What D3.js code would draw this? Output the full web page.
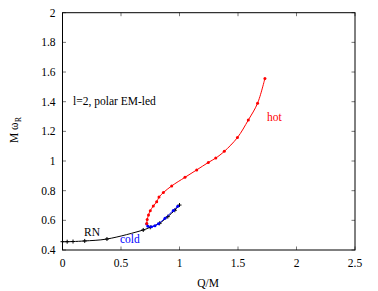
<!DOCTYPE html>
<html><head><meta charset="utf-8">
<script src="https://cdn.jsdelivr.net/npm/d3@7"></script>
<style>body{margin:0;background:#fff}svg{display:block}text{font-family:"Liberation Serif","Times New Roman",serif}</style>
</head><body>
<svg id="c" width="378" height="291"></svg>
<script>
const xTicks = [0, 0.5, 1, 1.5, 2, 2.5];
const yTicks = [0.4, 0.6, 0.8, 1, 1.2, 1.4, 1.6, 1.8, 2];
const rnQ = [0, 0.04, 0.09, 0.19, 0.38, 0.69, 0.75, 0.83, 0.9, 0.96, 1.0];
const rnW = [0.456, 0.456, 0.457, 0.461, 0.474, 0.535, 0.553, 0.58, 0.625, 0.668, 0.703];
const hotQ = [0.72, 0.724, 0.735, 0.75, 0.776, 0.805, 0.825, 0.862, 0.933, 1.047, 1.147, 1.246, 1.31, 1.383, 1.495, 1.588, 1.667, 1.73];
const hotW = [0.578, 0.605, 0.636, 0.665, 0.696, 0.725, 0.757, 0.787, 0.832, 0.89, 0.94, 0.99, 1.02, 1.065, 1.158, 1.276, 1.389, 1.557];
const coldQ = [0.72, 0.73, 0.76, 0.79, 0.82, 0.876, 0.947, 0.985];
const coldW = [0.575, 0.56, 0.556, 0.563, 0.577, 0.614, 0.667, 0.695];

const svg = d3.select("#c");
const L = 62.5, R = 355, T = 12.7, B = 250;
const x = d3.scaleLinear().domain([0, 2.5]).range([L, R]);
const y = d3.scaleLinear().domain([0.4, 2]).range([B, T]);
const tl = 3.5;

const tg = svg.append("g").attr("stroke", "#777").attr("stroke-width", 1);
xTicks.forEach(t => {
  tg.append("line").attr("x1", x(t)).attr("x2", x(t)).attr("y1", B).attr("y2", B - tl);
  tg.append("line").attr("x1", x(t)).attr("x2", x(t)).attr("y1", T).attr("y2", T + tl);
});
yTicks.forEach(t => {
  tg.append("line").attr("y1", y(t)).attr("y2", y(t)).attr("x1", L).attr("x2", L + tl);
  tg.append("line").attr("y1", y(t)).attr("y2", y(t)).attr("x1", R).attr("x2", R - tl);
});
svg.append("rect").attr("x", L).attr("y", T).attr("width", R - L).attr("height", B - T)
  .attr("fill", "none").attr("stroke", "#000").attr("stroke-width", 1);

const fs = 11.5;
xTicks.forEach(t => svg.append("text").attr("x", x(t)).attr("y", B + 17).attr("text-anchor", "middle")
  .attr("font-size", fs).text(d3.format("")(t)));
yTicks.forEach(t => svg.append("text").attr("x", L - 7).attr("y", y(t) + 4).attr("text-anchor", "end")
  .attr("font-size", fs).text(d3.format("")(t)));

svg.append("text").attr("x", 208).attr("y", 287).attr("text-anchor", "middle").attr("font-size", fs).text("Q/M");
const yl = svg.append("text").attr("transform", "translate(18,130) rotate(-90)").attr("text-anchor", "middle").attr("font-size", fs);
yl.append("tspan").text("M ω");
yl.append("tspan").attr("font-size", 8).attr("dy", 3).text("R");

svg.append("text").attr("x", 73).attr("y", 105).attr("font-size", fs).text("l=2, polar EM-led");
svg.append("text").attr("x", 267).attr("y", 121).attr("font-size", fs).attr("fill", "#f00").text("hot");
svg.append("text").attr("x", 84).attr("y", 236).attr("font-size", fs).attr("fill", "#000").text("RN");
svg.append("text").attr("x", 120).attr("y", 243).attr("font-size", fs).attr("fill", "#00f").text("cold");

const line = d3.line().x(d => x(d[0])).y(d => y(d[1])).curve(d3.curveCatmullRom);
function series(qs, ws, color, marker) {
  const pts = qs.map((q, i) => [q, ws[i]]);
  svg.append("path").datum(pts).attr("d", line).attr("fill", "none").attr("stroke", color).attr("stroke-width", 1);
  pts.forEach(p => {
    if (marker === "plus") {
      const cx = x(p[0]), cy = y(p[1]);
      svg.append("path").attr("d", `M${cx-2},${cy}H${cx+2}M${cx},${cy-2}V${cy+2}`).attr("stroke", color).attr("stroke-width", 1);
    } else {
      svg.append("circle").attr("cx", x(p[0])).attr("cy", y(p[1])).attr("r", 1.5).attr("fill", color);
    }
  });
}
series(rnQ, rnW, "#000", "plus");
series(coldQ, coldW, "#00f", "dot");
series(hotQ, hotW, "#f00", "dot");
</script>
</body></html>
